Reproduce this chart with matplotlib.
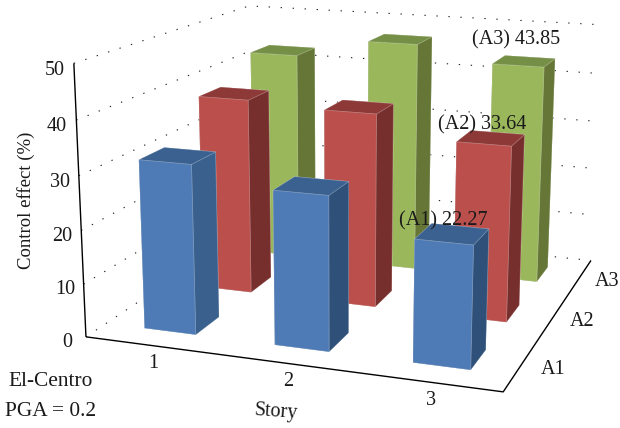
#!/usr/bin/env python3
import numpy as np
import matplotlib
matplotlib.use("Agg")
import matplotlib.pyplot as plt
from mpl_toolkits.mplot3d import proj3d
from mpl_toolkits.mplot3d.art3d import Line3DCollection

# Control effect per story, one list per damper arrangement
stories = [1, 2, 3]
rows = [1, 2, 3]
row_labels = ["A1", "A2", "A3"]
a1_values = [31.8, 28.5, 22.27]
a2_values = [38.5, 37.7, 33.64]
a3_values = [43.0, 46.8, 43.85]
z_ticks = [0, 10, 20, 30, 40, 50]

BAR_W = 0.40
BAR_D = 0.40
X0, X1 = 0.5, 3.5
Y0, Y1 = 0.5, 3.5
Z0, Z1 = 0, 50
W, H = 620, 428

# front, top, side shades for each series (one side shade per story)
blue = ["#4E7BB5", "#3A618F", ["#3A618D", "#2F5079", "#2F5079"]]
red = ["#BB4F4C", "#8D3937", ["#772F2D"] * 3]
green = ["#9AB75C", "#768F47", ["#657636"] * 3]


def camera_matrix():
    # solve the box-to-pixel camera from where the box corners sit on the canvas
    world = [(X0, Y0, 0), (X0, Y0, 50), (X1, Y0, 0), (X1, Y1, 0),
             (X1, Y1, 50), (X0, Y1, 50), (X1, Y1, 40), (X1, Y1, 20)]
    pixels = [(86, 337), (74, 63), (503, 392), (591, 260),
              (601, 25), (249, 6), (599, 73), (595, 169)]
    rows_a = []
    for (x, y, z), (u, v) in zip(world, pixels):
        p = [x, y, z, 1]
        rows_a.append(p + [0, 0, 0, 0] + [-u * c for c in p])
        rows_a.append([0, 0, 0, 0] + p + [-v * c for c in p])
    _, _, vt = np.linalg.svd(np.array(rows_a, dtype=float))
    return vt[-1].reshape(3, 4)


def px(x, y):
    return x / W, 1 - y / H


fig = plt.figure(figsize=(W / 100, H / 100), dpi=100)
# Axes3D forces a square box, so make it wide enough to hold the whole canvas
ax = fig.add_axes([0, (H - W) / 2 / H, 1, W / H], projection="3d", computed_zorder=False)
ax.set_axis_off()
ax.apply_aspect()

P = camera_matrix()
to_view = ax.transData.inverted().get_matrix()
u_row, v_row, w_row = P
if w_row[3] < 0:
    u_row, v_row, w_row = -u_row, -v_row, -w_row
disp_x = u_row
disp_y = H * w_row - v_row
M = np.array([
    to_view[0, 0] * disp_x + to_view[0, 2] * w_row,
    to_view[1, 1] * disp_y + to_view[1, 2] * w_row,
    w_row[3] * np.array([-0.1, 1, -0.01, 0]),
    w_row,
])
ax.get_proj = lambda: M


def label(x, y, z, s, **kw):
    # plain 2D text placed at the projected 3D position
    tx, ty, _ = proj3d.proj_transform(x, y, z, M)
    ax.text2D(tx, ty, s, transform=ax.transData, ha="center", va="center", zorder=20, **font, **kw)


# dotted gridlines on the two back walls
grid = [[(X0, Y0, z), (X0, Y1, z), (X1, Y1, z)] for z in z_ticks]
ax.add_collection3d(Line3DCollection(grid, colors="#222222", linewidths=0.8,
                                     linestyles=[(0, (1.2, 9.6))], zorder=1), autolim=False)

# solid axis lines
axis_lines = [[(X0, Y0, Z0), (X0, Y0, Z1)], [(X0, Y0, 0), (X1, Y0, 0), (X1, Y1, 0)]]
ax.add_collection3d(Line3DCollection(axis_lines, colors="black", linewidths=1.0, zorder=2),
                    autolim=False)

# back row first so nearer bars cover it
series = [(a3_values, 3, green), (a2_values, 2, red), (a1_values, 1, blue)]
for values, row, shades in series:
    front, top, sides = shades
    for story, val, side in zip(stories, values, sides):
        # face order in bar3d: bottom, top, front, back, left, right
        ax.bar3d(story - BAR_W / 2 + 0.005, row - BAR_D / 2, 0, BAR_W, BAR_D, val,
                 color=[top, top, front, top, side, side], shade=False,
                 edgecolor="#FFFFFF40", linewidth=0.5, zorder=5 + 3 - row + story * 0.1)

font = dict(family="Liberation Serif", color="#1a1a1a", fontsize=14.5)

for z in z_ticks:
    label(X0 - 0.15, Y0, z - 1.5, str(z))
for story in stories:
    label(story + 0.02, Y0, -3.3, str(story))
for row, name in zip(rows, row_labels):
    label(X1 + 0.22, row, 0, name)

# value labels for the last story
for values, row, name, dz in zip([a1_values, a2_values, a3_values], rows, row_labels, [2.2, 2.3, 4.1]):
    label(2.94, row, values[2] + dz, f"({name}) {values[2]:.2f}")

font["fontsize"] = 13.5
fig.text(*px(26, 200), "Control effect (%)", rotation=90, ha="center", va="center", **font)
font["fontsize"] = 14.5
fig.text(*px(276, 412), "Story", rotation=-4, ha="center", va="center", **font)
font["fontsize"] = 15.4
fig.text(*px(51, 382), "El-Centro", ha="center", va="center", **font)
fig.text(*px(51, 411), "PGA = 0.2", ha="center", va="center", **font)

fig.savefig("out.png", dpi=100)
